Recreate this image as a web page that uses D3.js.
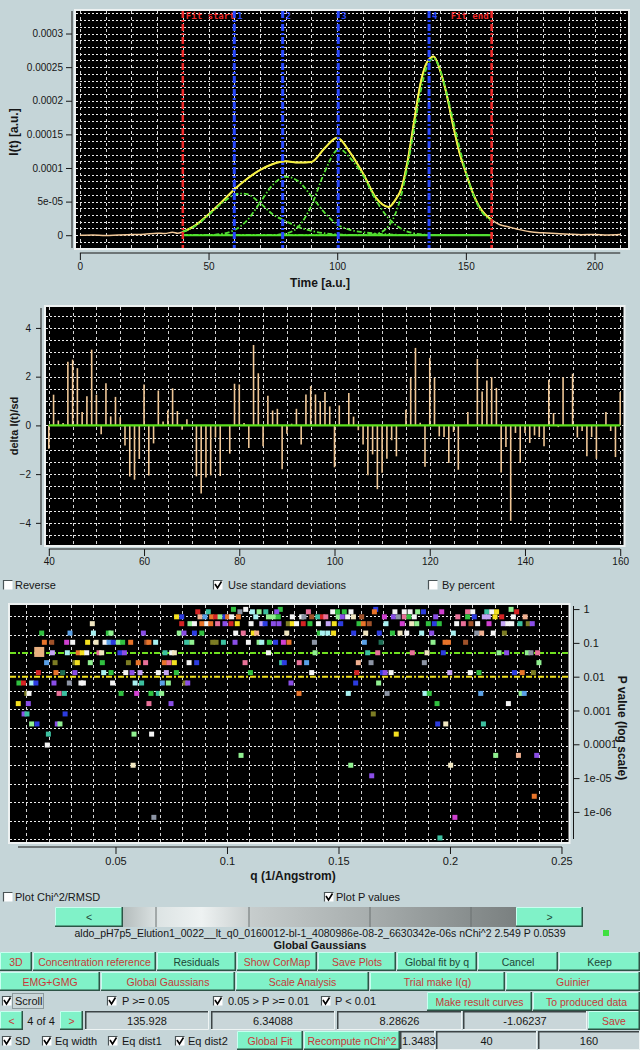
<!DOCTYPE html>
<html>
<head>
<meta charset="utf-8">
<script src="https://cdnjs.cloudflare.com/ajax/libs/d3/7.8.5/d3.min.js"></script>
<style>
  body { margin: 0; background: #c5d5d8; }
  svg { display: block; font-family: "Liberation Sans", Arial, sans-serif; }
</style>
</head>
<body>
<svg id="c" width="640" height="1050"></svg>
<script>
// ---------- elution profile (intensity in units of 1e-5) ----------
var dataT = [0,5,10,15,20,25,30,33,36,38,40,45,50,55,60,65,70,75,80,85,90,95,100,105,110,115,117.5,120,122.5,125,127.5,130,132.5,135,137.5,140,142.5,145,147.5,150,152.5,155,157.5,160,163,166,170,175,180,185,190,195,200,205,210];
var dataI = [0,0.05,-0.05,0.05,0.1,0.15,0.3,0.25,0.45,0.3,0.5,1.5,3.1,4.9,6.8,8.4,9.7,10.6,11.0,10.8,10.9,12.9,14.5,12.3,9.2,5.6,4.6,4.2,5.2,7.0,11.3,17.2,22.8,25.8,26.6,24.5,21.0,16.4,12.3,9.3,6.5,4.4,3.1,2.3,1.6,1.3,0.9,0.5,0.35,0.25,0.15,0.08,0.1,0.05,0.1];
var g1T = [40,45,50,55,60,62.5,65,70,75,80,85,90,95,100,105,110,120,140,160];
var g1I = [0.5,1.4,3.0,4.7,6.0,6.2,6.1,4.8,3.1,2.1,1.2,0.65,0.3,0.12,0.05,0.02,0,0,0];
var g2T = [40,50,55,60,65,70,75,80,85,90,95,100,105,110,115,120,125,130,145,160];
var g2I = [0,0.03,0.19,0.76,2.2,4.85,7.5,8.7,8.0,5.8,3.4,1.6,0.8,0.45,0.25,0.12,0.05,0.02,0,0];
var g3T = [40,70,75,80,85,90,95,100,101,105,110,115,120,125,130,135,140,150,160];
var g3I = [0,0.02,0.03,0.25,1.3,4.4,9.3,12.7,12.8,11.5,8.9,5.25,2.5,0.93,0.28,0.07,0.01,0,0];
var g4T = [40,100,110,115,120,125,127.5,130,132.5,135,137.5,140,142.5,145,147.5,150,155,160];
var g4I = [0,0,0.02,0.19,1.37,6.1,10.6,16.1,21.5,25.2,26.3,24.6,21.2,17.2,13.1,9.4,4.2,2.1];
var fitRange = [40, 160];
var markT = [40, 60, 78.8, 100.4, 135.7, 160];
var markLab = ['Fit start', '1', '2', '3', '4', 'Fit end'];
var yTickVals = [0, 5, 10, 15, 20, 25, 30];
var yTickLab = ['0', '5e-05', '0.0001', '0.00015', '0.0002', '0.00025', '0.0003'];

// ---------- residuals, t = 40..160 ----------
var resT = d3.range(40, 161);
var resV = [-0.96,1.26,0.2,0.1,2.61,2.7,2.35,0.55,1.2,3.11,1.26,-0.36,1.73,0.37,1.17,0.34,-0.83,-2.1,-2.23,-1.38,
  1.68,-2.06,-0.74,1.43,0.16,0.61,1.52,0.59,-0.18,0.25,0.02,-2.09,-2.8,-2.14,-2.05,-0.5,-2.08,0.02,-1.16,1.71,
  1.68,0.1,-0.93,3.3,2.14,-0.86,1.22,0.61,0.68,-1.8,-0.34,0.07,0.68,-0.78,1.27,1.61,1.27,0.98,1.37,0.78,
  -1.72,0.82,0.02,1.33,0.36,-0.2,-0.78,-2.05,-1.19,-2.62,-1.94,-1.37,-0.61,-1.27,0.02,0.64,1.95,3.18,0.11,-1.7,
  2.77,1.95,-0.45,-0.48,-1.54,-0.27,-1.82,0.02,0.55,0.02,2.73,1.39,1.84,1.98,1.54,-1.93,-0.89,-3.92,-0.31,-1.53,
  -0.31,-0.72,-0.41,-0.48,-0.86,1.87,0.5,-0.07,1.98,0.02,2.12,-0.5,-0.23,-1.27,-0.48,-1.37,0.02,0.55,-0.23,-1.3,1.37];

// ---------- P values by q (one row per P level) ----------
var pRows = [0.98, 0.83, 0.59, 0.37, 0.195, 0.104, 0.051, 0.026, 0.0132, 0.0065, 0.0032, 0.0016, 0.00079, 0.0004, 0.0002, 9.5e-5, 4.7e-5, 2.4e-5, 1.17e-5, 2.9e-6, 6.9e-7, 1.7e-7];
var qRows = [
  [0.1029,0.1084,0.1239,0.1667,0.2274],
  [0.0869,0.0916,0.1058,0.1114,0.1144,0.1174,0.1223,0.1365,0.1474,0.1496,0.1526,0.1556,0.1661,0.1753,0.1795,0.1821,0.1855,0.1881,0.1963,0.2079,0.2102,0.2165,0.2187,0.2209,0.2299],
  [0.0774,0.0797,0.0879,0.0901,0.0931,0.0949,0.0969,0.0991,0.1003,0.1021,0.1051,0.1129,0.1186,0.1208,0.1230,0.1293,0.1335,0.1345,0.1380,0.1407,0.1428,0.1443,0.1499,0.1517,0.1541,0.1567,0.1604,0.1706,0.1746,0.1768,0.1795,0.1816,0.1840,0.1936,0.2035,0.2079,0.2109,0.2154,0.2172,0.2202,0.2232,0.2284,0.2337],
  [0.0396,0.0797,0.0834,0.0854,0.0887,0.0909,0.0927,0.0958,0.0991,0.1018,0.1046,0.1108,0.1156,0.1171,0.1208,0.1233,0.1275,0.1293,0.1312,0.1342,0.1372,0.1410,0.1454,0.1481,0.1510,0.1592,0.1611,0.1638,0.1713,0.1786,0.1828,0.1851,0.1903,0.1930,0.1952,0.2030,0.2060,0.2094,0.2124,0.2175,0.2239,0.2259,0.2277,0.2314,0.2351,0.2369],
  [0.0169,0.0296,0.0401,0.0468,0.0480,0.0625,0.0786,0.0807,0.0854,0.0887,0.1039,0.1073,0.1118,0.1133,0.1268,0.1414,0.1428,0.1452,0.1478,0.1568,0.1622,0.1683,0.1742,0.1776,0.1806,0.1873,0.1918,0.2015,0.2120,0.2142,0.2194,0.2244],
  [0.0181,0.0214,0.0281,0.0308,0.0375,0.0413,0.0453,0.0471,0.0490,0.0513,0.0532,0.0568,0.0640,0.0650,0.0680,0.0819,0.0842,0.0936,0.0951,0.0984,0.1036,0.1096,0.1144,0.1156,0.1190,0.1218,0.1253,0.1278,0.1392,0.1616,0.1691,0.1924,0.1978,0.1993,0.2070],
  [0.0217,0.0284,0.0333,0.0351,0.0371,0.0426,0.0438,0.0520,0.0540,0.0722,0.0752,0.0764,0.1186,0.1395,0.1631,0.1676,0.1831,0.1897,0.1970,0.2220,0.2254,0.2347,0.2363,0.2393],
  [0.0191,0.0229,0.0318,0.0329,0.0387,0.0441,0.0558,0.0602,0.0635,0.0719,0.0740,0.0764,0.0830,0.0864,0.1081,0.1245,0.1257,0.1324,0.1357,0.1589,0.1646,0.1885,0.2399],
  [0.0154,0.0233,0.0263,0.0318,0.0447,0.0480,0.0546,0.0574,0.0610,0.0692,0.0728,0.0773,0.1105,0.1380,0.1582,0.1697,0.1709,0.1736,0.1999,0.2091,0.2130,0.2289,0.2324,0.2374],
  [0.0067,0.0087,0.0124,0.0143,0.0224,0.0293,0.0345,0.0356,0.0487,0.0588,0.0617,0.0710,0.0737,0.0812,0.0824,0.1287,0.1577,0.1680],
  [0.0102,0.0112,0.0247,0.0271,0.0525,0.0595,0.0659,0.0692,0.0707,0.1323,0.1544,0.1718,0.1888,0.1907,0.2138,0.2319,0.2333],
  [0.0064,0.0109,0.0650,0.0749,0.1942,0.2262],
  [0.0090,0.0103,0.0274,0.1656],
  [0.0124,0.0148,0.0239,0.0251,0.1945,0.1981,0.2150],
  [0.0199,0.0583,0.0662,0.1759],
  [0.0194],
  [0.1063,0.2205,0.2307,0.2389],
  [0.0579,0.1555,0.2003],
  [0.1649],
  [0.2378],
  [0.0672,0.2022],
  [0.1955]
];
var cRows = [
  'g w g b lg',
  'r t gr lc lg t p pk w g g w o w w w lg b m pk w t w y r',
  'y b pe lb o r lg b o w o lc lg lg g w w gr br t r pk lg p w c br m p gr pk g w p pk g b lv lv y r w pe',
  'c r lg w o w o pk p r y w lv b p p ol y w r g w lv y b g o br lc m c lg g b g w pk br w m lv w w t ol p',
  'g lb lc g lg p lg p b g w pk y pe c g lc lc y b c b g c w lc p lc gr pe w ol',
  'o br m w y c w lb b lg g o br o lc t lg ol ol t p w lg lc g b m o gr lb dg lg o o br',
  'lv lc o y w pk c b p t w c w lg t pk pk c b lg p lg gr pk',
  'lb ol ol y lg g ol o pk o pk y w b pk t b pk lb pe gr gr lg',
  'r o dg p lc g w p lv w lv g g w r b p w lv w g b o ol',
  'g r lc b p gr w w w lc t lb lg ol p p b lg',
  'ol w pk t g m g t lg o lc gr lc g lb lg lb',
  'y p pk p g w',
  'p t b ol',
  'lg b p lg b c t',
  't lg w y',
  'w',
  'lg lg pe p',
  'c lg c',
  'p',
  'o',
  'gr m',
  't'
];
var palette = {w:'#f4f4f4', c:'#f0e6c0', lg:'#90f090', g:'#30c040', dg:'#1e6e55', t:'#3cc0a0', lc:'#a8f0f0',
  lb:'#5aa0e6', b:'#2c3ce0', p:'#8a4ee6', lv:'#c4a4f4', m:'#d040d0', pk:'#e87098', r:'#d42424',
  o:'#e8742a', br:'#a0522a', y:'#f4e020', ol:'#7c7c24', gr:'#8c94a4', pe:'#f0b090'};
var selQ = 0.0158, selP = 0.0539;
var pLevels = [0.05, 0.01];
var pTickVals = [1, 0.1, 0.01, 0.001, 0.0001, 1e-5, 1e-6];
var pTickLab = ['1', '0.1', '0.01', '0.001', '0.0001', '1e-05', '1e-06'];

var MINT = '#80f2c8', RED = '#c83838', DARK = '#1d4636', INK = '#161616';
var svg = d3.select('#c');

function crisp(v) { return Math.round(v) + 0.5; }
function panel(x0, y0, x1, y1) {
  svg.append('rect').attr('x', x0).attr('y', y0).attr('width', x1 - x0).attr('height', y1 - y0)
    .attr('fill', '#000').attr('stroke', '#eef2f2').attr('stroke-width', 2);
}
function hGrid(ys, x0, x1) {
  svg.append('g').selectAll('line').data(ys).enter().append('line')
    .attr('x1', x0).attr('x2', x1).attr('y1', crisp).attr('y2', crisp)
    .attr('stroke', '#ececec').attr('stroke-dasharray', '2,2');
}
function vGrid(xs, y0, y1) {
  svg.append('g').selectAll('line').data(xs).enter().append('line')
    .attr('y1', y0).attr('y2', y1).attr('x1', crisp).attr('x2', crisp)
    .attr('stroke', '#d4d4d4').attr('stroke-dasharray', '3,3');
}
function styleAxis(g, size) {
  g.select('.domain').remove();
  g.selectAll('line').attr('stroke', INK);
  g.selectAll('text').attr('fill', INK).style('font-size', size || '10px');
}
function axisLine(x1, y1, x2, y2) {
  svg.append('line').attr('x1', x1).attr('y1', y1).attr('x2', x2).attr('y2', y2).attr('stroke', INK);
}

// ================= top: I(t) =================
var xT = d3.scaleLinear().domain([-1.9, 213.4]).range([75, 629]);
var yT = d3.scaleLinear().domain([-2.05, 33.5]).range([249, 10]);
panel(75, 10, 629, 249);
hGrid(d3.range(-2, 34).map(yT), 76, 628);
vGrid(d3.range(0, 211, 10).map(xT), 11, 248);

var line = d3.line().curve(d3.curveMonotoneX);
function curve(ts, vs, col, w, dash) {
  svg.append('path').attr('d', line(ts.map(function(t, i){ return [xT(t), yT(vs[i])]; })))
    .attr('fill', 'none').attr('stroke', col).attr('stroke-width', w).attr('stroke-dasharray', dash || null);
}
curve(dataT, dataI, '#f2c898', 1.5);
var inT = dataT.filter(function(t){ return t >= fitRange[0] && t <= fitRange[1]; });
var inI = dataI.filter(function(v, i){ return dataT[i] >= fitRange[0] && dataT[i] <= fitRange[1]; });
curve(inT, inI, '#f4f040', 2);
svg.append('line').attr('x1', xT(fitRange[0])).attr('x2', xT(fitRange[1])).attr('y1', yT(0)).attr('y2', yT(0))
  .attr('stroke', '#50f020').attr('stroke-width', 2);
[[g1T, g1I], [g2T, g2I], [g3T, g3I], [g4T, g4I]].forEach(function(g){
  curve(g[0], g[1], '#54e034', 1.8, '5,2,1.5,2');
});

markT.forEach(function(t, i){
  var fit = i === 0 || i === markT.length - 1;
  var col = fit ? '#f02828' : '#2848ff';
  svg.append('line').attr('x1', xT(t)).attr('x2', xT(t)).attr('y1', 11).attr('y2', 248)
    .attr('stroke', col).attr('stroke-width', fit ? 2.5 : 3).attr('stroke-dasharray', '7,2,2,2');
  svg.append('text').attr('x', i === markT.length - 1 ? xT(t) - 3 : xT(t) + 3).attr('y', 19)
    .attr('text-anchor', i === markT.length - 1 ? 'end' : 'start')
    .attr('fill', col).style('font-family', '"DejaVu Sans Mono", monospace').style('font-size', '9px')
    .style('font-weight', 'bold').text(markLab[i]);
});

var gy = svg.append('g').attr('transform', 'translate(72,0)');
gy.call(d3.axisLeft(yT).tickValues(d3.range(-2, 34)).tickSize(3).tickFormat(''));
gy.call(d3.axisLeft(yT).tickValues(yTickVals).tickSize(6).tickPadding(3).tickFormat(function(d, i){ return yTickLab[i]; }));
styleAxis(gy);
axisLine(72, 11, 72, 248);
var gx = svg.append('g').attr('transform', 'translate(0,253)');
gx.call(d3.axisBottom(xT).tickValues(d3.range(0, 211, 10)).tickSize(3).tickFormat(''));
gx.call(d3.axisBottom(xT).tickValues([0, 50, 100, 150, 200]).tickSize(7).tickPadding(3).tickFormat(d3.format('d')));
styleAxis(gx);
axisLine(xT(0), 253, xT(210), 253);
svg.append('text').attr('x', 320).attr('y', 287).attr('text-anchor', 'middle').attr('fill', INK)
  .style('font-size', '12px').style('font-weight', 'bold').text('Time [a.u.]');
svg.append('text').attr('transform', 'translate(18,132) rotate(-90)').attr('text-anchor', 'middle').attr('fill', INK)
  .style('font-size', '12px').style('font-weight', 'bold').text('I(t) [a.u.]');

// ================= residuals =================
var xR = d3.scaleLinear().domain([39.2, 160.9]).range([45, 624.5]);
var yR = d3.scaleLinear().domain([-4.95, 4.9]).range([546, 306]);
panel(45, 306, 624.5, 546);
hGrid(d3.range(-4.5, 5, 0.5).map(yR), 46, 623.5);
vGrid(d3.range(40, 161, 5).map(xR), 307, 545);
svg.append('g').selectAll('line').data(resV).enter().append('line')
  .attr('x1', function(d, i){ return xR(resT[i]); }).attr('x2', function(d, i){ return xR(resT[i]); })
  .attr('y1', yR(0)).attr('y2', function(d){ return yR(d); })
  .attr('stroke', '#eec594').attr('stroke-width', 1.6);
svg.append('line').attr('x1', xR(40)).attr('x2', xR(160)).attr('y1', yR(0)).attr('y2', yR(0))
  .attr('stroke', '#5ce01c').attr('stroke-width', 2.2);
var ry = svg.append('g').attr('transform', 'translate(41,0)');
ry.call(d3.axisLeft(yR).tickValues(d3.range(-4.5, 5, 0.5)).tickSize(3).tickFormat(''));
ry.call(d3.axisLeft(yR).tickValues([-4, -2, 0, 2, 4]).tickSize(5).tickPadding(5).tickFormat(d3.format('d')));
styleAxis(ry);
axisLine(41, 308, 41, 545);
var rx = svg.append('g').attr('transform', 'translate(0,549)');
rx.call(d3.axisBottom(xR).tickValues(d3.range(40, 161, 5)).tickSize(4).tickFormat(''));
rx.call(d3.axisBottom(xR).tickValues(d3.range(40, 161, 20)).tickSize(7).tickPadding(2).tickFormat(d3.format('d')));
styleAxis(rx);
axisLine(xR(40), 549, xR(160), 549);
svg.append('text').attr('transform', 'translate(18,426) rotate(-90)').attr('text-anchor', 'middle').attr('fill', INK)
  .style('font-size', '11px').style('font-weight', 'bold').text('delta I(t)/sd');

// ================= P value map =================
var xP = d3.scaleLinear().domain([0.00224, 0.2536]).range([9, 569.5]);
var yP = d3.scaleLog().domain([Math.pow(10, -6.92), Math.pow(10, 0.15)]).range([843, 604]);
panel(9, 604, 569.5, 843);
hGrid(d3.range(13).map(function(i){ return yP(Math.pow(10, -0.207 - 0.5505 * i)); }), 10, 568.5);
vGrid(d3.range(0.01, 0.251, 0.01).map(xP), 605, 842);
svg.append('line').attr('x1', 10).attr('x2', 568.5).attr('y1', yP(pLevels[0])).attr('y2', yP(pLevels[0]))
  .attr('stroke', '#70e020').attr('stroke-width', 2).attr('stroke-dasharray', '6,2,2,2');
svg.append('line').attr('x1', 10).attr('x2', 568.5).attr('y1', yP(pLevels[1])).attr('y2', yP(pLevels[1]))
  .attr('stroke', '#f0e020').attr('stroke-width', 2).attr('stroke-dasharray', '6,2,2,2');
var pts = [];
qRows.forEach(function(row, r){
  var cols = cRows[r].split(' ');
  row.forEach(function(q, i){ pts.push({q: q, p: pRows[r], c: palette[cols[i]]}); });
});
svg.append('g').selectAll('rect').data(pts).enter().append('rect')
  .attr('x', function(d){ return xP(d.q) - 2.5; }).attr('y', function(d){ return yP(d.p) - 2.5; })
  .attr('width', 5).attr('height', 5).attr('fill', function(d){ return d.c; });
svg.append('rect').attr('x', xP(selQ) - 5).attr('y', yP(selP) - 5).attr('width', 10).attr('height', 10).attr('fill', '#e8b080');

var py = svg.append('g').attr('transform', 'translate(573.5,0)');
py.call(d3.axisRight(yP).tickValues(yP.ticks()).tickSize(3).tickFormat(''));
py.call(d3.axisRight(yP).tickValues(pTickVals).tickSize(6).tickPadding(4).tickFormat(function(d, i){ return pTickLab[i]; }));
styleAxis(py, '11px');
axisLine(573.5, 606, 573.5, 839);
var px = svg.append('g').attr('transform', 'translate(0,847)');
px.call(d3.axisBottom(xP).tickValues(d3.range(0.01, 0.251, 0.01)).tickSize(4).tickFormat(''));
px.call(d3.axisBottom(xP).tickValues([0.05, 0.1, 0.15, 0.2, 0.25]).tickSize(7).tickPadding(3).tickFormat(function(d){ return String(+d.toFixed(2)); }));
styleAxis(px, '11px');
axisLine(18, 847, 562, 847);
svg.append('text').attr('x', 293).attr('y', 880).attr('text-anchor', 'middle').attr('fill', INK)
  .style('font-size', '12px').style('font-weight', 'bold').text('q (1/Angstrom)');
svg.append('text').attr('transform', 'translate(618,728) rotate(90)').attr('text-anchor', 'middle').attr('fill', INK)
  .style('font-size', '12px').style('font-weight', 'bold').text('P value (log scale)');

// ================= controls =================
function checkbox(x, y, on, label, tx) {
  svg.append('rect').attr('x', x + 0.5).attr('y', y + 0.5).attr('width', 9).attr('height', 9).attr('fill', '#fff');
  svg.append('path').attr('d', 'M' + (x + 0.5) + ',' + (y + 9.5) + 'V' + (y + 0.5) + 'H' + (x + 9.5))
    .attr('fill', 'none').attr('stroke', '#4a5456').attr('stroke-width', 1.2);
  if (on) svg.append('path').attr('d', 'M' + (x + 2) + ',' + (y + 4) + 'L' + (x + 4.5) + ',' + (y + 8) + 'L' + (x + 8.5) + ',' + (y + 1.5))
    .attr('fill', 'none').attr('stroke', '#000').attr('stroke-width', 1.6);
  svg.append('text').attr('x', tx || x + 14).attr('y', y + 9).attr('fill', INK).style('font-size', '11px').text(label);
}
function button(x, y, w, h, label, col) {
  svg.append('rect').attr('x', x).attr('y', y).attr('width', w).attr('height', h).attr('fill', MINT);
  svg.append('path').attr('d', 'M' + (x + 0.5) + ',' + (y + h) + 'V' + (y + 0.5) + 'H' + (x + w))
    .attr('fill', 'none').attr('stroke', '#c8fff0');
  svg.append('path').attr('d', 'M' + (x + w - 0.75) + ',' + y + 'V' + (y + h - 0.75) + 'H' + x)
    .attr('fill', 'none').attr('stroke', '#2c5446').attr('stroke-width', 1.5);
  svg.append('text').attr('x', x + w / 2).attr('y', y + h / 2 + 4).attr('text-anchor', 'middle')
    .attr('fill', col).style('font-size', '10.5px').text(label);
}
function field(x, y, w, h, label, left) {
  svg.append('rect').attr('x', x).attr('y', y).attr('width', w).attr('height', h).attr('fill', '#c9d6d9');
  svg.append('path').attr('d', 'M' + (x + 0.75) + ',' + (y + h) + 'V' + (y + 0.75) + 'H' + (x + w))
    .attr('fill', 'none').attr('stroke', '#3c4446').attr('stroke-width', 1.5);
  svg.append('path').attr('d', 'M' + (x + w - 0.5) + ',' + y + 'V' + (y + h - 0.5) + 'H' + x)
    .attr('fill', 'none').attr('stroke', '#eef4f4');
  svg.append('text').attr('x', left ? x + 2 : x + w / 2).attr('y', y + h / 2 + 4)
    .attr('text-anchor', left ? 'start' : 'middle').attr('fill', INK).style('font-size', '11px').text(label);
}

checkbox(3, 580, false, 'Reverse', 15);
checkbox(213, 580, true, 'Use standard deviations', 228);
checkbox(428, 580, false, 'By percent', 442);
checkbox(3, 892, false, 'Plot Chi^2/RMSD', 15);
checkbox(324, 892, true, 'Plot P values', 336);

// slider
var defs = svg.append('defs');
var grad = defs.append('linearGradient').attr('id', 'trough');
[[0, '#b4bcbc'], [0.09, '#dde4e4'], [0.2, '#eef2f2'], [0.33, '#c6cccc'], [0.62, '#a8aeae'], [1, '#7a8080']].forEach(function(s){
  grad.append('stop').attr('offset', s[0]).attr('stop-color', s[1]);
});
svg.append('rect').attr('x', 123).attr('y', 907).attr('width', 393).attr('height', 20).attr('fill', 'url(#trough)');
[156, 249, 370, 471].forEach(function(x){
  svg.append('line').attr('x1', x).attr('x2', x).attr('y1', 907).attr('y2', 927).attr('stroke', '#6a7070');
});
button(55, 907, 68, 20, '<', DARK);
button(516, 907, 67, 20, '>', DARK);
svg.append('text').attr('x', 320).attr('y', 937).attr('text-anchor', 'middle').attr('fill', INK).style('font-size', '10.5px')
  .text('aldo_pH7p5_Elution1_0022__lt_q0_0160012-bl-1_4080986e-08-2_6630342e-06s nChi^2 2.549 P 0.0539');
svg.append('rect').attr('x', 603).attr('y', 930).attr('width', 6).attr('height', 6).attr('fill', '#40e040');
svg.append('text').attr('x', 320).attr('y', 949).attr('text-anchor', 'middle').attr('fill', INK)
  .style('font-size', '11px').style('font-weight', 'bold').text('Global Gaussians');

[[0, 32, '3D', RED], [33, 123, 'Concentration reference', RED], [157, 79, 'Residuals', DARK], [237, 80, 'Show CorMap', RED],
 [318, 78, 'Save Plots', RED], [397, 80, 'Global fit by q', DARK], [478, 80, 'Cancel', DARK], [559, 81, 'Keep', DARK]]
  .forEach(function(b){ button(b[0], 952, b[1], 19, b[2], b[3]); });
[[0, 100, 'EMG+GMG'], [101, 134, 'Global Gaussians'], [236, 133, 'Scale Analysis'], [370, 135, 'Trial make I(q)'], [506, 134, 'Guinier']]
  .forEach(function(b){ button(b[0], 972, b[1], 19, b[2], RED); });

// scroll row
svg.append('rect').attr('x', 12.5).attr('y', 993.5).attr('width', 31).attr('height', 15)
  .attr('fill', '#c9d6d9').attr('stroke', '#8c9a9c');
checkbox(2, 996, true, 'Scroll', 15);
checkbox(107, 996, true, 'P >= 0.05', 122);
checkbox(213, 996, true, '0.05 > P >= 0.01', 228);
checkbox(321, 996, true, 'P < 0.01', 335);
button(427, 992, 105, 19, 'Make result curves', RED);
button(533, 992, 107, 19, 'To produced data', RED);

button(0, 1011, 23, 19, '<', RED);
svg.append('text').attr('x', 41).attr('y', 1025).attr('text-anchor', 'middle').attr('fill', INK).style('font-size', '11px').text('4 of 4');
button(60, 1011, 23, 19, '>', RED);
field(85, 1011, 124, 19, '135.928');
field(211, 1011, 124, 19, '6.34088');
field(337, 1011, 125, 19, '8.28626');
field(463, 1011, 124, 19, '-1.06237');
button(588, 1011, 52, 19, 'Save', RED);

checkbox(2, 1036, true, 'SD', 15);
checkbox(42, 1036, true, 'Eq width', 55);
checkbox(108, 1036, true, 'Eq dist1', 122);
checkbox(175, 1036, true, 'Eq dist2', 188);
button(237, 1031, 66, 19, 'Global Fit', RED);
button(304, 1031, 96, 19, 'Recompute nChi^2', RED);
field(400, 1031, 35, 19, '1.3483', true);
field(436, 1031, 101, 19, '40');
field(538, 1031, 102, 19, '160');
</script>
</body>
</html>
